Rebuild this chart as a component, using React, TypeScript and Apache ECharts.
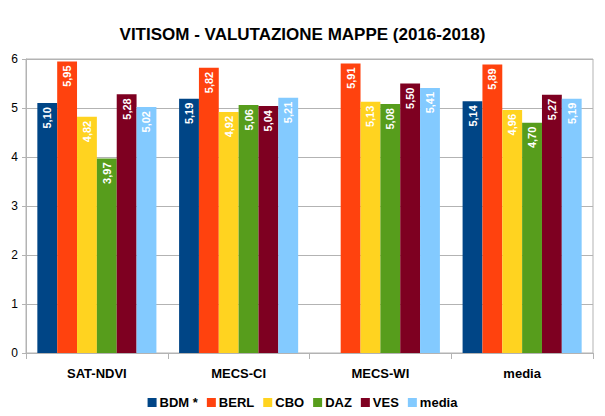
import React, { useEffect, useRef } from "react";
import * as echarts from "echarts";

const categories = ["SAT-NDVI", "MECS-CI", "MECS-WI", "media"];
const seriesNames = ["BDM *", "BERL", "CBO", "DAZ", "VES", "media"];
const bdm = [5.10, 5.19, null, 5.14];
const berl = [5.95, 5.82, 5.91, 5.89];
const cbo = [4.82, 4.92, 5.13, 4.96];
const daz = [3.97, 5.06, 5.08, 4.70];
const ves = [5.28, 5.04, 5.50, 5.27];
const media = [5.02, 5.21, 5.41, 5.19];
const yTicks = [0, 1, 2, 3, 4, 5, 6];

const colors = ["#004586", "#ff420e", "#ffd320", "#579d1c", "#7e0021", "#83caff"];
const FONT = "Liberation Sans";

export default function App() {
  const ref = useRef<HTMLDivElement>(null);
  useEffect(() => {
    if (!ref.current) return;
    const chart = echarts.init(ref.current, null, { renderer: "svg" });
    const data = [bdm, berl, cbo, daz, ves, media];
    chart.setOption({
      animation: false,
      color: colors,
      textStyle: { fontFamily: FONT },
      title: {
        text: "VITISOM - VALUTAZIONE MAPPE (2016-2018)",
        left: "center",
        top: 21,
        textStyle: { fontFamily: FONT, fontSize: 17, fontWeight: "bold", color: "#000" },
      },
      legend: {
        bottom: 2,
        left: "center",
        itemWidth: 9,
        itemHeight: 9,
        itemGap: 9,
        icon: "rect",
        textStyle: { fontFamily: FONT, fontSize: 13, fontWeight: "bold", color: "#000", padding: [0, 0, 0, -2] },
        data: seriesNames,
      },
      grid: {
        left: 26,
        right: 12,
        top: 59,
        bottom: 63,
        show: true,
        borderColor: "#b3b3b3",
        borderWidth: 1,
      },
      xAxis: {
        type: "category",
        data: categories,
        axisLine: { lineStyle: { color: "#b3b3b3" } },
        axisTick: { show: true, length: 6, lineStyle: { color: "#b3b3b3" } },
        axisLabel: { fontFamily: FONT, fontSize: 13, fontWeight: "bold", color: "#000", margin: 14 },
      },
      yAxis: {
        type: "value",
        min: yTicks[0],
        max: yTicks[yTicks.length - 1],
        interval: 1,
        axisLine: { show: true, lineStyle: { color: "#b3b3b3" } },
        axisTick: { show: true, length: 4, lineStyle: { color: "#b3b3b3" } },
        splitLine: { lineStyle: { color: "#b3b3b3" } },
        axisLabel: { fontFamily: FONT, fontSize: 12, color: "#000", margin: 8 },
      },
      series: seriesNames.map((name, i) => ({
        name,
        type: "bar",
        data: data[i],
        barGap: "0%",
        barCategoryGap: "16%",
        label: {
          show: true,
          position: "insideTop",
          rotate: 90,
          align: "right",
          verticalAlign: "middle",
          distance: 4,
          fontFamily: FONT,
          fontSize: 11,
          fontWeight: "bold",
          color: "#fff",
          formatter: (p: any) => (p.value == null ? "" : Number(p.value).toFixed(2).replace(".", ",")),
        },
      })),
    });
    return () => chart.dispose();
  }, []);
  return <div ref={ref} style={{ width: 605, height: 416, position: "absolute", left: 0, top: 0, background: "#fff" }} />;
}
